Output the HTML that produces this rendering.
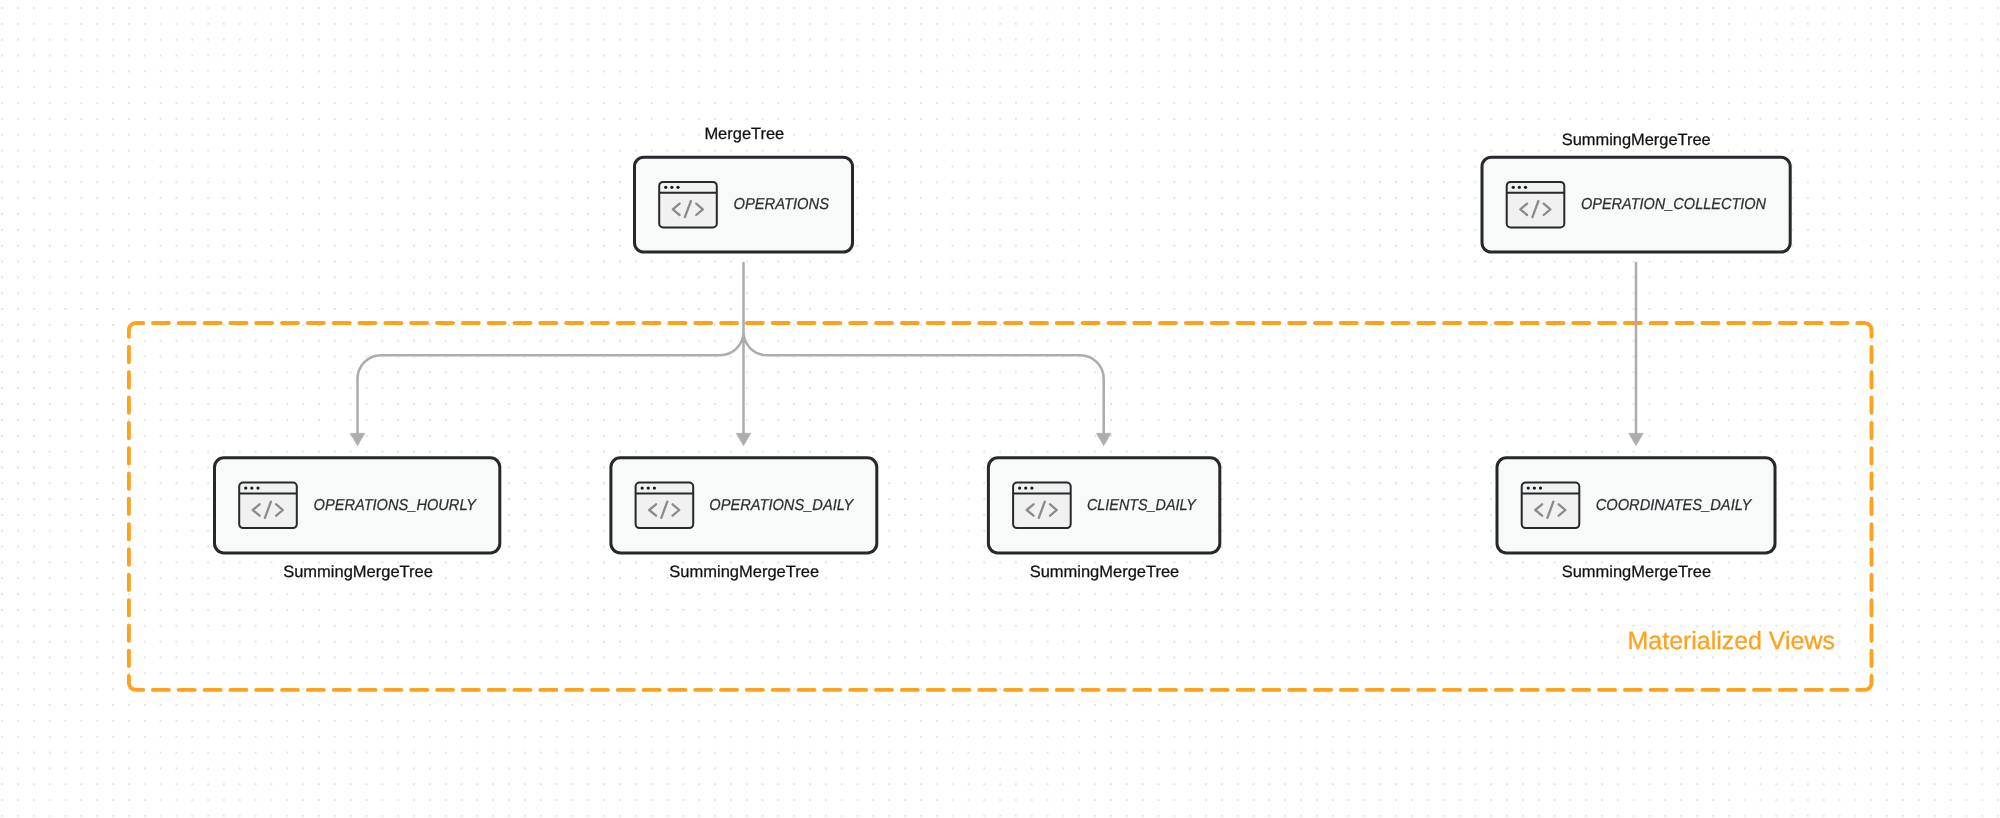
<!DOCTYPE html>
<html><head><meta charset="utf-8"><title>Materialized Views</title>
<style>
html,body{margin:0;padding:0;background:#fff;width:2000px;height:818px;overflow:hidden}
svg{display:block;position:absolute;left:0;top:0;will-change:transform;text-rendering:geometricPrecision}
.it{font-family:"Liberation Sans",sans-serif;font-style:italic;font-size:15.8px;fill:#2b2e31;stroke:#2b2e31;stroke-width:0.25px}
.lb{font-family:"Liberation Sans",sans-serif;font-size:16.4px;fill:#111;stroke:#111;stroke-width:0.25px}
.mv{font-family:"Liberation Sans",sans-serif;font-size:25px;fill:#fda21f;stroke:#fda21f;stroke-width:0.3px}
</style></head><body>
<svg width="2000" height="818" viewBox="0 0 2000 818">
<defs><pattern id="dots" patternUnits="userSpaceOnUse" x="-5.72" y="0.13" width="15.84" height="15.84"><circle cx="7.92" cy="7.92" r="1.0" fill="#dcdcdc"/></pattern></defs>
<rect width="2000" height="818" fill="url(#dots)"/>
<path d="M143.10,323.00H135.90A7.0,7.0 0 0 0 128.90,330.00V336.85M1857.30,323.00H1864.50A7.0,7.0 0 0 1 1871.50,330.00V336.85M143.10,689.90H135.90A7.0,7.0 0 0 1 128.90,682.90V676.05M1857.30,689.90H1864.50A7.0,7.0 0 0 0 1871.50,682.90V676.05M152.92,323.0H168.92M152.92,689.9H168.92M178.75,323.0H194.75M178.75,689.9H194.75M204.57,323.0H220.57M204.57,689.9H220.57M230.40,323.0H246.40M230.40,689.9H246.40M256.22,323.0H272.22M256.22,689.9H272.22M282.04,323.0H298.04M282.04,689.9H298.04M307.87,323.0H323.87M307.87,689.9H323.87M333.69,323.0H349.69M333.69,689.9H349.69M359.51,323.0H375.51M359.51,689.9H375.51M385.34,323.0H401.34M385.34,689.9H401.34M411.16,323.0H427.16M411.16,689.9H427.16M436.99,323.0H452.99M436.99,689.9H452.99M462.81,323.0H478.81M462.81,689.9H478.81M488.63,323.0H504.63M488.63,689.9H504.63M514.46,323.0H530.46M514.46,689.9H530.46M540.28,323.0H556.28M540.28,689.9H556.28M566.11,323.0H582.11M566.11,689.9H582.11M591.93,323.0H607.93M591.93,689.9H607.93M617.75,323.0H633.75M617.75,689.9H633.75M643.58,323.0H659.58M643.58,689.9H659.58M669.40,323.0H685.40M669.40,689.9H685.40M695.23,323.0H711.23M695.23,689.9H711.23M721.05,323.0H737.05M721.05,689.9H737.05M746.87,323.0H762.87M746.87,689.9H762.87M772.70,323.0H788.70M772.70,689.9H788.70M798.52,323.0H814.52M798.52,689.9H814.52M824.34,323.0H840.34M824.34,689.9H840.34M850.17,323.0H866.17M850.17,689.9H866.17M875.99,323.0H891.99M875.99,689.9H891.99M901.82,323.0H917.82M901.82,689.9H917.82M927.64,323.0H943.64M927.64,689.9H943.64M953.46,323.0H969.46M953.46,689.9H969.46M979.29,323.0H995.29M979.29,689.9H995.29M1005.11,323.0H1021.11M1005.11,689.9H1021.11M1030.94,323.0H1046.94M1030.94,689.9H1046.94M1056.76,323.0H1072.76M1056.76,689.9H1072.76M1082.58,323.0H1098.58M1082.58,689.9H1098.58M1108.41,323.0H1124.41M1108.41,689.9H1124.41M1134.23,323.0H1150.23M1134.23,689.9H1150.23M1160.06,323.0H1176.06M1160.06,689.9H1176.06M1185.88,323.0H1201.88M1185.88,689.9H1201.88M1211.70,323.0H1227.70M1211.70,689.9H1227.70M1237.53,323.0H1253.53M1237.53,689.9H1253.53M1263.35,323.0H1279.35M1263.35,689.9H1279.35M1289.17,323.0H1305.17M1289.17,689.9H1305.17M1315.00,323.0H1331.00M1315.00,689.9H1331.00M1340.82,323.0H1356.82M1340.82,689.9H1356.82M1366.65,323.0H1382.65M1366.65,689.9H1382.65M1392.47,323.0H1408.47M1392.47,689.9H1408.47M1418.29,323.0H1434.29M1418.29,689.9H1434.29M1444.12,323.0H1460.12M1444.12,689.9H1460.12M1469.94,323.0H1485.94M1469.94,689.9H1485.94M1495.77,323.0H1511.77M1495.77,689.9H1511.77M1521.59,323.0H1537.59M1521.59,689.9H1537.59M1547.41,323.0H1563.41M1547.41,689.9H1563.41M1573.24,323.0H1589.24M1573.24,689.9H1589.24M1599.06,323.0H1615.06M1599.06,689.9H1615.06M1624.89,323.0H1640.89M1624.89,689.9H1640.89M1650.71,323.0H1666.71M1650.71,689.9H1666.71M1676.53,323.0H1692.53M1676.53,689.9H1692.53M1702.36,323.0H1718.36M1702.36,689.9H1718.36M1728.18,323.0H1744.18M1728.18,689.9H1744.18M1754.00,323.0H1770.00M1754.00,689.9H1770.00M1779.83,323.0H1795.83M1779.83,689.9H1795.83M1805.65,323.0H1821.65M1805.65,689.9H1821.65M1831.48,323.0H1847.48M1831.48,689.9H1847.48M128.9,346.87V362.17M1871.5,346.87V362.17M128.9,372.19V387.49M1871.5,372.19V387.49M128.9,397.51V412.81M1871.5,397.51V412.81M128.9,422.84V438.14M1871.5,422.84V438.14M128.9,448.16V463.46M1871.5,448.16V463.46M128.9,473.48V488.78M1871.5,473.48V488.78M128.9,498.80V514.10M1871.5,498.80V514.10M128.9,524.12V539.42M1871.5,524.12V539.42M128.9,549.44V564.74M1871.5,549.44V564.74M128.9,574.76V590.06M1871.5,574.76V590.06M128.9,600.09V615.39M1871.5,600.09V615.39M128.9,625.41V640.71M1871.5,625.41V640.71M128.9,650.73V666.03M1871.5,650.73V666.03" fill="none" stroke="#fda21f" stroke-width="3.9" stroke-linecap="round"/>
<path d="M743.5,263V434M743.5,331.7A23.5,23.5 0 0 1 720,355.2H381A23.5,23.5 0 0 0 357.5,378.7V434M743.5,331.7A23.5,23.5 0 0 0 767,355.2H1080.2A23.5,23.5 0 0 1 1103.7,378.7V434M1636,263V434" fill="none" stroke="#adadad" stroke-width="2.55" stroke-linecap="round"/><path d="M350.20,433.3L364.80,433.3L357.50,445.8Z" fill="#adadad" stroke="#adadad" stroke-width="0.6" stroke-linejoin="round"/><path d="M736.20,433.3L750.80,433.3L743.50,445.8Z" fill="#adadad" stroke="#adadad" stroke-width="0.6" stroke-linejoin="round"/><path d="M1096.40,433.3L1111.00,433.3L1103.70,445.8Z" fill="#adadad" stroke="#adadad" stroke-width="0.6" stroke-linejoin="round"/><path d="M1628.70,433.3L1643.30,433.3L1636.00,445.8Z" fill="#adadad" stroke="#adadad" stroke-width="0.6" stroke-linejoin="round"/>
<rect x="634.50" y="157.15" width="218.00" height="94.95" rx="9.3" fill="#f8f9f9" stroke="#26292c" stroke-width="3"/><rect x="659.20" y="181.90" width="57.6" height="45.5" rx="4" fill="#f1f1f1" stroke="#26292c" stroke-width="2"/><path d="M659.20,192.80H716.80" stroke="#26292c" stroke-width="2"/><circle cx="665.75" cy="187.35" r="1.65" fill="#1e2022"/><circle cx="671.85" cy="187.35" r="1.65" fill="#1e2022"/><circle cx="678.00" cy="187.35" r="1.65" fill="#1e2022"/><path d="M679.60,203.60L672.80,209.30L679.60,215.00M690.90,201.00L684.90,217.20M696.20,203.60L702.85,209.30L696.20,215.00" fill="none" stroke="#8b8b8b" stroke-width="2.3" stroke-linecap="round" stroke-linejoin="round"/><text x="733.43" y="209.1" class="it" textLength="95.64" lengthAdjust="spacingAndGlyphs">OPERATIONS</text><rect x="1482.00" y="157.15" width="308.20" height="94.95" rx="9.3" fill="#f8f9f9" stroke="#26292c" stroke-width="3"/><rect x="1506.70" y="181.90" width="57.6" height="45.5" rx="4" fill="#f1f1f1" stroke="#26292c" stroke-width="2"/><path d="M1506.70,192.80H1564.30" stroke="#26292c" stroke-width="2"/><circle cx="1513.25" cy="187.35" r="1.65" fill="#1e2022"/><circle cx="1519.35" cy="187.35" r="1.65" fill="#1e2022"/><circle cx="1525.50" cy="187.35" r="1.65" fill="#1e2022"/><path d="M1527.10,203.60L1520.30,209.30L1527.10,215.00M1538.40,201.00L1532.40,217.20M1543.70,203.60L1550.35,209.30L1543.70,215.00" fill="none" stroke="#8b8b8b" stroke-width="2.3" stroke-linecap="round" stroke-linejoin="round"/><text x="1580.95" y="209.1" class="it" textLength="185.15" lengthAdjust="spacingAndGlyphs">OPERATION_COLLECTION</text><rect x="214.50" y="457.85" width="285.30" height="95.05" rx="9.3" fill="#f8f9f9" stroke="#26292c" stroke-width="3"/><rect x="239.20" y="482.60" width="57.6" height="45.5" rx="4" fill="#f1f1f1" stroke="#26292c" stroke-width="2"/><path d="M239.20,493.50H296.80" stroke="#26292c" stroke-width="2"/><circle cx="245.75" cy="488.05" r="1.65" fill="#1e2022"/><circle cx="251.85" cy="488.05" r="1.65" fill="#1e2022"/><circle cx="258.00" cy="488.05" r="1.65" fill="#1e2022"/><path d="M259.60,504.30L252.80,510.00L259.60,515.70M270.90,501.70L264.90,517.90M276.20,504.30L282.85,510.00L276.20,515.70" fill="none" stroke="#8b8b8b" stroke-width="2.3" stroke-linecap="round" stroke-linejoin="round"/><text x="313.58" y="510.1" class="it" textLength="162.33" lengthAdjust="spacingAndGlyphs">OPERATIONS_HOURLY</text><rect x="610.90" y="457.85" width="265.90" height="95.05" rx="9.3" fill="#f8f9f9" stroke="#26292c" stroke-width="3"/><rect x="635.60" y="482.60" width="57.6" height="45.5" rx="4" fill="#f1f1f1" stroke="#26292c" stroke-width="2"/><path d="M635.60,493.50H693.20" stroke="#26292c" stroke-width="2"/><circle cx="642.15" cy="488.05" r="1.65" fill="#1e2022"/><circle cx="648.25" cy="488.05" r="1.65" fill="#1e2022"/><circle cx="654.40" cy="488.05" r="1.65" fill="#1e2022"/><path d="M656.00,504.30L649.20,510.00L656.00,515.70M667.30,501.70L661.30,517.90M672.60,504.30L679.25,510.00L672.60,515.70" fill="none" stroke="#8b8b8b" stroke-width="2.3" stroke-linecap="round" stroke-linejoin="round"/><text x="709.31" y="510.1" class="it" textLength="143.99" lengthAdjust="spacingAndGlyphs">OPERATIONS_DAILY</text><rect x="988.40" y="457.85" width="231.40" height="95.05" rx="9.3" fill="#f8f9f9" stroke="#26292c" stroke-width="3"/><rect x="1013.10" y="482.60" width="57.6" height="45.5" rx="4" fill="#f1f1f1" stroke="#26292c" stroke-width="2"/><path d="M1013.10,493.50H1070.70" stroke="#26292c" stroke-width="2"/><circle cx="1019.65" cy="488.05" r="1.65" fill="#1e2022"/><circle cx="1025.75" cy="488.05" r="1.65" fill="#1e2022"/><circle cx="1031.90" cy="488.05" r="1.65" fill="#1e2022"/><path d="M1033.50,504.30L1026.70,510.00L1033.50,515.70M1044.80,501.70L1038.80,517.90M1050.10,504.30L1056.75,510.00L1050.10,515.70" fill="none" stroke="#8b8b8b" stroke-width="2.3" stroke-linecap="round" stroke-linejoin="round"/><text x="1086.96" y="510.1" class="it" textLength="108.87" lengthAdjust="spacingAndGlyphs">CLIENTS_DAILY</text><rect x="1497.00" y="457.85" width="278.00" height="95.05" rx="9.3" fill="#f8f9f9" stroke="#26292c" stroke-width="3"/><rect x="1521.70" y="482.60" width="57.6" height="45.5" rx="4" fill="#f1f1f1" stroke="#26292c" stroke-width="2"/><path d="M1521.70,493.50H1579.30" stroke="#26292c" stroke-width="2"/><circle cx="1528.25" cy="488.05" r="1.65" fill="#1e2022"/><circle cx="1534.35" cy="488.05" r="1.65" fill="#1e2022"/><circle cx="1540.50" cy="488.05" r="1.65" fill="#1e2022"/><path d="M1542.10,504.30L1535.30,510.00L1542.10,515.70M1553.40,501.70L1547.40,517.90M1558.70,504.30L1565.35,510.00L1558.70,515.70" fill="none" stroke="#8b8b8b" stroke-width="2.3" stroke-linecap="round" stroke-linejoin="round"/><text x="1595.71" y="510.1" class="it" textLength="155.58" lengthAdjust="spacingAndGlyphs">COORDINATES_DAILY</text>
<text x="704.40" y="138.9" class="lb" textLength="79.88" lengthAdjust="spacingAndGlyphs">MergeTree</text><text x="1561.71" y="145.0" class="lb" textLength="149.00" lengthAdjust="spacingAndGlyphs">SummingMergeTree</text><text x="283.17" y="577.4" class="lb" textLength="149.71" lengthAdjust="spacingAndGlyphs">SummingMergeTree</text><text x="669.32" y="577.4" class="lb" textLength="149.81" lengthAdjust="spacingAndGlyphs">SummingMergeTree</text><text x="1029.68" y="577.4" class="lb" textLength="149.59" lengthAdjust="spacingAndGlyphs">SummingMergeTree</text><text x="1561.71" y="577.4" class="lb" textLength="149.47" lengthAdjust="spacingAndGlyphs">SummingMergeTree</text>
<text x="1627.62" y="648.5" class="mv" textLength="207.28" lengthAdjust="spacingAndGlyphs">Materialized Views</text>
</svg>
</body></html>
